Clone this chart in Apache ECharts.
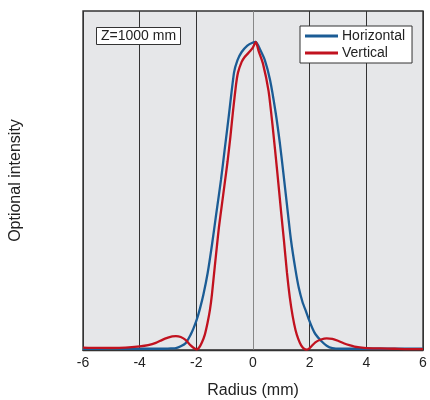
<!DOCTYPE html>
<html>
<head>
<meta charset="utf-8">
<script src="https://cdn.jsdelivr.net/npm/echarts@6/dist/echarts.min.js"></script>
<style>html,body{margin:0;padding:0;background:#fff}#c{width:430px;height:400px}</style>
</head>
<body>
<div id="c"></div>
<script>
var xTicks = [-6, -4, -2, 0, 2, 4, 6];
var seriesNames = ['Horizontal', 'Vertical'];
var hX = [-6,-5.5,-5,-4.5,-4,-3.6,-3.2,-2.9,-2.72,-2.55,-2.37,-2.2,-2.1,-1.98,-1.87,-1.75,-1.6,-1.45,-1.3,-1.13,-1.0,-0.85,-0.67,-0.55,-0.4,-0.2,0,0.1,0.25,0.42,0.6,0.8,0.95,1.06,1.2,1.34,1.5,1.62,1.75,1.87,1.98,2.1,2.2,2.4,2.6,2.8,3.1,3.5,4,4.5,5,5.5,6];
var hY = [0.004,0.004,0.005,0.004,0.004,0.004,0.004,0.005,0.006,0.012,0.023,0.05,0.07,0.1,0.135,0.18,0.25,0.34,0.44,0.552,0.65,0.763,0.9,0.94,0.967,0.988,0.998,1.0,0.975,0.94,0.877,0.77,0.67,0.584,0.47,0.357,0.26,0.2,0.155,0.125,0.097,0.07,0.052,0.03,0.014,0.006,0.004,0.004,0.004,0.004,0.004,0.004,0.004];
var vX = [-6,-5.5,-5,-4.5,-4,-3.7,-3.43,-3.2,-3.0,-2.85,-2.72,-2.55,-2.37,-2.2,-2.05,-1.98,-1.9,-1.8,-1.7,-1.6,-1.52,-1.45,-1.35,-1.27,-1.2,-1.1,-1.0,-0.9,-0.8,-0.7,-0.6,-0.53,-0.4,-0.3,-0.2,-0.1,0,0.1,0.2,0.35,0.55,0.7,0.85,1.0,1.09,1.2,1.3,1.4,1.5,1.6,1.7,1.8,1.9,2.0,2.2,2.4,2.6,2.8,3.0,3.2,3.4,3.7,4,4.5,5,5.5,6];
var vY = [0.008,0.007,0.007,0.008,0.012,0.016,0.023,0.033,0.04,0.044,0.045,0.042,0.032,0.015,0.004,0.002,0.008,0.025,0.05,0.09,0.13,0.18,0.27,0.34,0.4,0.47,0.54,0.61,0.69,0.78,0.86,0.9,0.935,0.95,0.96,0.97,0.982,1.0,0.97,0.93,0.84,0.72,0.584,0.44,0.357,0.25,0.17,0.11,0.065,0.035,0.015,0.004,0.001,0.006,0.025,0.034,0.038,0.036,0.03,0.022,0.016,0.009,0.006,0.005,0.004,0.003,0.003];

function zip(a, b) { return a.map(function (x, i) { return [x, b[i]]; }); }

var font = 'Liberation Sans, Arial, sans-serif';
var chart = echarts.init(document.getElementById('c'), null, { renderer: 'canvas' });
chart.setOption({
  animation: false,
  backgroundColor: '#fff',
  textStyle: { fontFamily: font },
  title: {
    text: 'Z=1000 mm',
    left: 96, top: 27,
    padding: [2, 5, 2, 5],
    backgroundColor: '#fff',
    borderColor: '#333', borderWidth: 1,
    textStyle: { fontSize: 14, fontWeight: 'normal', color: '#222', fontFamily: font }
  },
  legend: {
    data: seriesNames,
    orient: 'vertical',
    left: 300, top: 26,
    padding: [3, 7, 3, 5],
    itemGap: 3,
    itemWidth: 33, itemHeight: 3,
    icon: 'rect',
    backgroundColor: '#fff',
    borderColor: '#333', borderWidth: 1,
    textStyle: { fontSize: 14, color: '#222', fontFamily: font, padding: [0, 0, 0, -1] }
  },
  grid: {
    left: 83, right: 7, top: 11, bottom: 50,
    outerBoundsMode: 'none', containLabel: false,
    show: true, backgroundColor: '#e6e7e9', borderColor: '#333', borderWidth: 1.4
  },
  xAxis: {
    type: 'value', min: -6, max: 6, interval: 2,
    name: 'Radius (mm)', nameLocation: 'middle', nameGap: 33,
    nameTextStyle: { fontSize: 16, color: '#222', fontFamily: font },
    axisLine: { show: true, lineStyle: { color: '#333', width: 1.4 } },
    axisTick: { show: false },
    axisLabel: { fontSize: 14, color: '#222', margin: 6, fontFamily: font,
      formatter: function (v) { return xTicks.indexOf(v) >= 0 ? String(v) : ''; } },
    splitLine: { show: true, lineStyle: { color: ['#333','#333','#333','#888','#333','#333','#333'], width: 1 } }
  },
  yAxis: {
    type: 'value', min: 0, max: 1.1,
    name: 'Optional intensity', nameLocation: 'middle', nameGap: 59,
    nameTextStyle: { fontSize: 16, color: '#222', fontFamily: font },
    axisLine: { show: false }, axisTick: { show: false },
    axisLabel: { show: false }, splitLine: { show: false }
  },
  series: [
    { name: seriesNames[0], type: 'line', data: zip(hX, hY), showSymbol: false, smooth: 0.2,
      color: '#1b5c95', lineStyle: { width: 2.3, color: '#1b5c95' } },
    { name: seriesNames[1], type: 'line', data: zip(vX, vY), showSymbol: false, smooth: 0.2,
      color: '#c1121f', lineStyle: { width: 2.3, color: '#c1121f' } }
  ]
});
</script>
</body>
</html>
